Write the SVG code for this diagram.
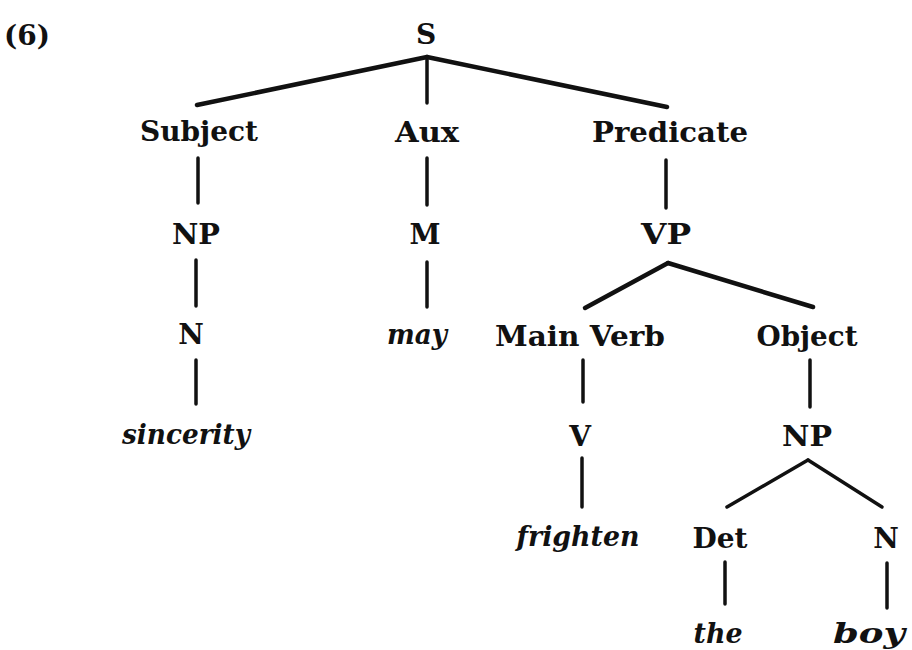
<svg xmlns="http://www.w3.org/2000/svg" width="912" height="650" viewBox="0 0 912 650">
<style>
text{font-family:"DejaVu Serif","Liberation Serif",serif;font-size:28px;font-weight:bold;fill:#111;text-anchor:middle}
text.it{font-style:italic}
#connectors line{stroke:#111;stroke-width:3.5;stroke-linecap:round}
#connectors line.thick{stroke-width:4.5}
</style>
<rect width="912" height="650" fill="#fff"/>
<g id="label6"><text x="27" y="45" textLength="46" lengthAdjust="spacingAndGlyphs">(6)</text></g>
<g id="connectors">
<line class="thick" x1="427" y1="57" x2="197" y2="105"/>
<line x1="427" y1="57" x2="427" y2="103"/>
<line class="thick" x1="427" y1="57" x2="667" y2="107"/>
<line x1="198" y1="158" x2="198" y2="203"/>
<line x1="427" y1="158" x2="427" y2="205"/>
<line x1="666" y1="160" x2="666" y2="208"/>
<line x1="196" y1="260" x2="196" y2="306"/>
<line x1="427" y1="262" x2="427" y2="307"/>
<line class="thick" x1="668" y1="263" x2="585" y2="308"/>
<line class="thick" x1="668" y1="263" x2="813" y2="307"/>
<line x1="196" y1="360" x2="196" y2="404"/>
<line x1="583" y1="360" x2="583" y2="402"/>
<line x1="810" y1="360" x2="810" y2="407"/>
<line x1="582" y1="458" x2="582" y2="507"/>
<line x1="808" y1="460" x2="727" y2="507"/>
<line x1="808" y1="460" x2="882" y2="507"/>
<line x1="725" y1="562" x2="725" y2="604"/>
<line x1="887" y1="563" x2="887" y2="608"/>
</g>
<g id="S"><text x="426" y="44">S</text></g>
<g id="Subject"><text x="199" y="141" textLength="118" lengthAdjust="spacingAndGlyphs">Subject</text></g>
<g id="Aux"><text x="427" y="142" textLength="64" lengthAdjust="spacingAndGlyphs">Aux</text></g>
<g id="Predicate"><text x="670" y="142" textLength="156" lengthAdjust="spacingAndGlyphs">Predicate</text></g>
<g id="NP1"><text x="196" y="244" textLength="48" lengthAdjust="spacingAndGlyphs">NP</text></g>
<g id="M"><text x="425" y="244">M</text></g>
<g id="VP"><text x="666" y="244" textLength="50" lengthAdjust="spacingAndGlyphs">VP</text></g>
<g id="N1"><text x="191" y="344">N</text></g>
<g id="may"><text class="it" x="417" y="344" textLength="60" lengthAdjust="spacingAndGlyphs">may</text></g>
<g id="MainVerb"><text x="580" y="346" textLength="170" lengthAdjust="spacingAndGlyphs">Main  Verb</text></g>
<g id="Object"><text x="807" y="346" textLength="101" lengthAdjust="spacingAndGlyphs">Object</text></g>
<g id="sincerity"><text class="it" x="186" y="444" textLength="128" lengthAdjust="spacingAndGlyphs">sincerity</text></g>
<g id="V"><text x="580" y="446">V</text></g>
<g id="NP2"><text x="807" y="446" textLength="50" lengthAdjust="spacingAndGlyphs">NP</text></g>
<g id="frighten"><text class="it" x="578" y="546" textLength="123" lengthAdjust="spacingAndGlyphs">frighten</text></g>
<g id="Det"><text x="720" y="548" textLength="55" lengthAdjust="spacingAndGlyphs">Det</text></g>
<g id="N2"><text x="886" y="548">N</text></g>
<g id="the"><text class="it" x="718" y="643" textLength="49" lengthAdjust="spacingAndGlyphs">the</text></g>
<g id="boy"><text class="it" x="869" y="643" textLength="72" lengthAdjust="spacingAndGlyphs">boy</text></g>
</svg>
